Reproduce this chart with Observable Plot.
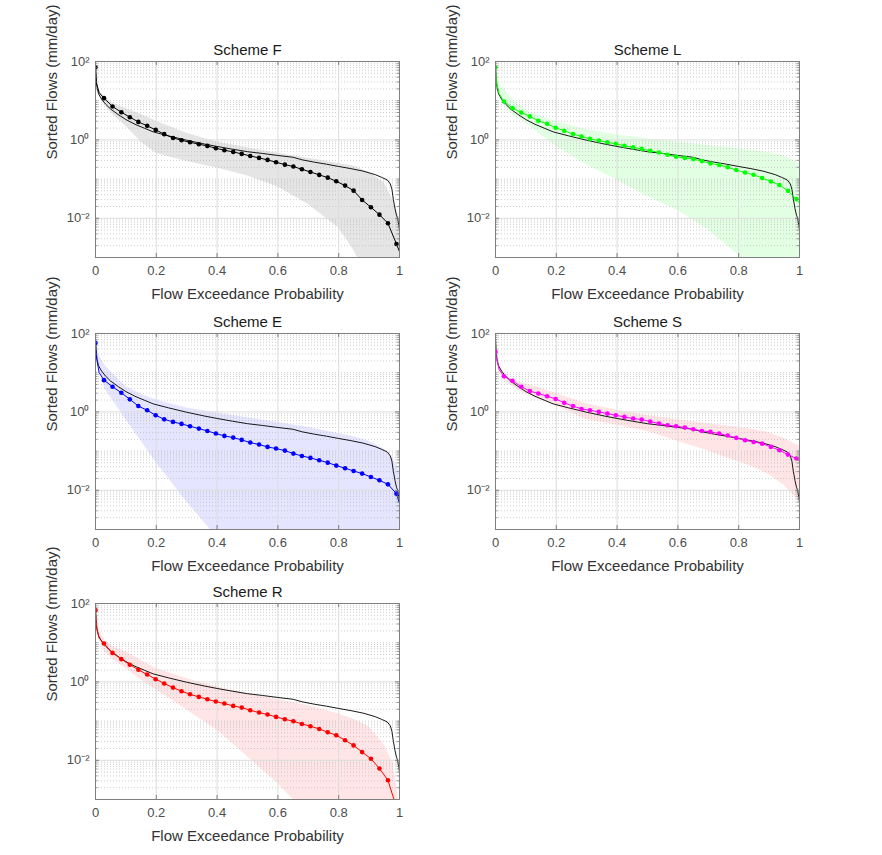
<!DOCTYPE html>
<html>
<head>
<meta charset="utf-8">
<script src="https://cdn.jsdelivr.net/npm/d3@7"></script>
<script src="https://cdn.jsdelivr.net/npm/@observablehq/plot@0.6"></script>
<style>
  body { margin: 0; background: #ffffff; }
  #fig { position: relative; width: 882px; height: 855px; background: #ffffff; font-family: "Liberation Sans", Arial, sans-serif; }
  .panel { position: absolute; }
</style>
</head>
<body>
<div id="fig"></div>
<script>
// ---------- axis ticks ----------
const xTicks = [0, 0.2, 0.4, 0.6, 0.8, 1];
const xTickLabels = ["0", "0.2", "0.4", "0.6", "0.8", "1"];
const yTicks = [1e-2, 1, 1e2];
const yTickLabels = ["10⁻²", "10⁰", "10²"];

// ---------- exceedance probabilities ----------
const markerP = [0, 0.028, 0.056, 0.085, 0.113, 0.141, 0.17, 0.198, 0.226, 0.255, 0.283, 0.311,
  0.34, 0.368, 0.396, 0.424, 0.453, 0.481, 0.509, 0.538, 0.566, 0.594, 0.623, 0.651,
  0.679, 0.707, 0.736, 0.764, 0.792, 0.821, 0.849, 0.877, 0.906, 0.934, 0.962, 0.99];
const headP = [0.003, 0.012];
const bandP = [0, 0.01, 0.03, 0.06, 0.1, 0.15, 0.2, 0.3, 0.4, 0.5, 0.6, 0.7, 0.8, 0.85, 0.9, 0.95, 0.98, 1];

// ---------- observed flow duration curve (mm/day) ----------
const obsP = [0, 0.001, 0.002, 0.005, 0.01, 0.02, 0.033, 0.05, 0.077, 0.1, 0.13, 0.16, 0.19, 0.24, 0.3,
  0.36, 0.4, 0.45, 0.5, 0.55, 0.6, 0.65, 0.68, 0.72, 0.76, 0.8, 0.84, 0.88, 0.92, 0.94, 0.96,
  0.97, 0.975, 0.98, 0.985, 0.99, 0.993, 0.996, 0.998, 1];
const obsQ = [75, 55, 38, 22, 15, 11, 8.2, 6.1, 4.3, 3.3, 2.5, 2.0, 1.6, 1.27, 0.98,
  0.78, 0.68, 0.58, 0.5, 0.45, 0.4, 0.36, 0.31, 0.27, 0.24, 0.21, 0.185, 0.16, 0.13, 0.112, 0.095,
  0.075, 0.055, 0.03, 0.018, 0.012, 0.0105, 0.008, 0.0065, 0.005];

// ---------- simulated (markers), head of line, end value ----------
const simF = [71.6, 11.6, 7.1, 5.08, 3.79, 2.88, 2.28, 1.80, 1.40, 1.12, 0.98, 0.87, 0.776, 0.703, 0.612, 0.545,
  0.494, 0.44, 0.39, 0.347, 0.309, 0.269, 0.234, 0.209, 0.178, 0.152, 0.128, 0.109, 0.0881, 0.0682,
  0.0508, 0.0294, 0.0191, 0.0124, 0.00745, 0.00221];
const headF = [28, 16];
const endF = 0.00141;

const simL = [71.6, 9.55, 6.46, 5.01, 3.98, 3.09, 2.57, 2.04, 1.70, 1.41, 1.22, 1.06, 0.962, 0.871, 0.794, 0.708,
  0.646, 0.589, 0.525, 0.479, 0.417, 0.372, 0.347, 0.324, 0.288, 0.251, 0.229, 0.200, 0.170, 0.148,
  0.129, 0.107, 0.0871, 0.0708, 0.0501, 0.0309];
const headL = [30, 15];
const endL = 0.024;

const simE = [57.5, 6.46, 4.37, 3.09, 2.09, 1.41, 1.10, 0.822, 0.646, 0.556, 0.494, 0.431, 0.375, 0.327, 0.280, 0.244,
  0.221, 0.193, 0.165, 0.147, 0.128, 0.116, 0.103, 0.0863, 0.0753, 0.0670, 0.0583, 0.0508, 0.0427, 0.0365,
  0.0312, 0.0267, 0.0219, 0.0180, 0.0142, 0.00822];
const headE = [25, 10];
const endE = 0.00457;

const simS = [33.9, 8.13, 6.17, 4.37, 3.39, 2.95, 2.51, 2.14, 1.70, 1.41, 1.19, 1.10, 1.0, 0.906, 0.822, 0.745,
  0.676, 0.637, 0.566, 0.504, 0.457, 0.431, 0.398, 0.361, 0.327, 0.309, 0.280, 0.249, 0.217, 0.189,
  0.171, 0.155, 0.128, 0.105, 0.0813, 0.0646];
const headS = [25, 12];
const endS = 0.0562;

const simR = [67.6, 9.55, 5.50, 3.80, 2.75, 2.04, 1.55, 1.17, 0.912, 0.716, 0.578, 0.484, 0.414, 0.361, 0.315, 0.280,
  0.244, 0.221, 0.189, 0.165, 0.147, 0.128, 0.111, 0.0991, 0.0847, 0.0741, 0.0631, 0.0519, 0.0437, 0.0324,
  0.0240, 0.0162, 0.0110, 0.00617, 0.00309, 0.00063];
const headR = [25, 13];
const endR = 0.00035;

// ---------- uncertainty bands (lower / upper, mm/day) ----------
const lowF = [63, 14.1, 7.6, 4.2, 2.24, 0.89, 0.447, 0.282, 0.191, 0.12, 0.063, 0.0224, 0.00562, 0.00151, 0.00025, 0.00004, 0.000016, 0.00001];
const highF = [70.8, 20, 12, 8.3, 6.3, 4.5, 3.0, 1.48, 0.89, 0.63, 0.457, 0.339, 0.251, 0.214, 0.151, 0.0794, 0.0282, 0.01];

const lowL = [63.1, 15.8, 7.08, 4.17, 2.69, 1.32, 0.676, 0.229, 0.0955, 0.0355, 0.0158, 0.00501, 0.00112, 0.0005, 0.0002, 0.00008, 0.00005, 0.00003];
const highL = [70.8, 31.6, 19.1, 10, 5.89, 3.98, 2.95, 1.82, 1.35, 1.07, 0.871, 0.724, 0.603, 0.537, 0.479, 0.38, 0.302, 0.251];

const lowE = [56.2, 15.8, 3.98, 1.78, 0.631, 0.178, 0.0501, 0.00501, 0.00063, 0.0001, 0.00003, 0.00001, 0.00001, 0.00001, 0.00001, 0.00001, 0.00001, 0.00001];
const highE = [63.1, 28.2, 15.8, 8.91, 4.47, 2.82, 2.0, 1.26, 0.933, 0.708, 0.537, 0.398, 0.282, 0.234, 0.178, 0.112, 0.0631, 0.0316];

const lowS = [31.6, 10, 6.31, 4.17, 2.82, 2.0, 1.41, 0.631, 0.457, 0.316, 0.178, 0.1, 0.0525, 0.038, 0.0251, 0.0132, 0.00759, 0.00501];
const highS = [35.5, 15.8, 8.71, 6.31, 5.25, 3.98, 2.95, 1.62, 1.1, 0.813, 0.631, 0.501, 0.407, 0.355, 0.295, 0.209, 0.158, 0.135];

const lowR = [63.1, 14.1, 5.89, 3.55, 2.19, 1.12, 0.617, 0.191, 0.0589, 0.0123, 0.00251, 0.0004, 0.0001, 0.00001, 0.00001, 0.00001, 0.00001, 0.00001];
const highR = [70.8, 25.1, 11.5, 7.94, 5.89, 3.55, 2.19, 1.22, 0.741, 0.501, 0.355, 0.251, 0.151, 0.112, 0.0708, 0.0251, 0.00794, 0.00063];

// ---------- panels ----------
const panels = [
  {title: "Scheme F", color: "#000000", band: "#000000", op: 0.1, sim: simF, head: headF, end: endF, lo: lowF, hi: highF, left: 40, top: 40},
  {title: "Scheme L", color: "#00ff00", band: "#00ff00", op: 0.11, sim: simL, head: headL, end: endL, lo: lowL, hi: highL, left: 440, top: 40},
  {title: "Scheme E", color: "#0000ff", band: "#0000ff", op: 0.1, sim: simE, head: headE, end: endE, lo: lowE, hi: highE, left: 40, top: 312},
  {title: "Scheme S", color: "#ff00ff", band: "#ff0000", op: 0.1, sim: simS, head: headS, end: endS, lo: lowS, hi: highS, left: 440, top: 312},
  {title: "Scheme R", color: "#ff0000", band: "#ff0000", op: 0.1, sim: simR, head: headR, end: endR, lo: lowR, hi: highR, left: 40, top: 582}
];

// minor log grid positions
const yMinor = [];
for (let e = -3; e <= 1; e++) {
  for (let k = 1; k <= 9; k++) {
    if (k === 1 && (e === -3 || e === -2 || e === 0)) continue;
    yMinor.push(+(k * Math.pow(10, e)).toPrecision(3));
  }
}
const yMinorAll = yMinor.filter(v => v > 1e-3 && v < 1e2);

const W = 380, H = 270, mL = 55, mT = 21, mR = 21, mB = 53;
const fw = W - mL - mR, fh = H - mT - mB;
const axisCol = "#7f7f7f";
const fontFam = "'Liberation Sans', Arial, Helvetica, sans-serif";

function makePanel(s) {
  const band = bandP.map((p, i) => ({p, lo: s.lo[i], hi: s.hi[i]}));
  const obs = obsP.map((p, i) => ({p, q: obsQ[i]}));
  const marks = markerP.map((p, i) => ({p, q: s.sim[i]}));
  const line = [marks[0], ...headP.map((p, i) => ({p, q: s.head[i]})), ...marks.slice(1), {p: 1, q: s.end}];
  return Plot.plot({
    width: W, height: H,
    marginLeft: mL, marginTop: mT, marginRight: mR, marginBottom: mB,
    style: {fontFamily: fontFam, background: "transparent", overflow: "visible"},
    x: {domain: [0, 1]},
    y: {type: "log", domain: [1e-3, 1e2]},
    marks: [
      Plot.areaY(band, {x: "p", y1: "lo", y2: "hi", fill: s.band, fillOpacity: s.op, clip: true}),
      Plot.gridY(yMinorAll, {stroke: "#b8b8b8", strokeOpacity: 1, strokeWidth: 0.7, strokeDasharray: "1,2"}),
      Plot.gridY([1e-2, 1], {stroke: "#dcdcdc", strokeOpacity: 1, strokeWidth: 1}),
      Plot.gridX([0.2, 0.4, 0.6, 0.8], {stroke: "#dcdcdc", strokeOpacity: 1, strokeWidth: 1}),
      Plot.line(obs, {x: "p", y: "q", stroke: "#000000", strokeWidth: 0.9, clip: true}),
      Plot.line(line, {x: "p", y: "q", stroke: s.color, strokeWidth: 1, clip: true}),
      Plot.dot(marks, {x: "p", y: "q", fill: s.color, stroke: "none", r: 2.3, clip: true}),
      Plot.frame({stroke: axisCol, strokeWidth: 1}),
      // inward ticks
      Plot.tickX(xTicks, {x: d => d, insetTop: fh - 4, stroke: axisCol}),
      Plot.tickX(xTicks, {x: d => d, insetBottom: fh - 4, stroke: axisCol}),
      Plot.tickY(yTicks, {y: d => d, insetRight: fw - 4, stroke: axisCol}),
      Plot.tickY(yTicks, {y: d => d, insetLeft: fw - 4, stroke: axisCol}),
      Plot.tickY(yMinorAll, {y: d => d, insetRight: fw - 2.5, stroke: axisCol, strokeWidth: 0.8}),
      Plot.tickY(yMinorAll, {y: d => d, insetLeft: fw - 2.5, stroke: axisCol, strokeWidth: 0.8}),
      Plot.axisX({ticks: xTicks, tickFormat: d => xTickLabels[xTicks.indexOf(d)], tickSize: 0, tickPadding: 8, fontSize: 13, fill: "#4d4d4d", label: null}),
      Plot.axisY({ticks: yTicks, tickFormat: d => yTickLabels[yTicks.indexOf(d)], tickSize: 0, tickPadding: 6, fontSize: 13, fill: "#4d4d4d", label: null}),
      Plot.text([s.title], {text: d => d, frameAnchor: "top", dy: -11, lineAnchor: "middle", fontSize: 15, fill: "#1a1a1a"}),
      Plot.text(["Flow Exceedance Probability"], {text: d => d, frameAnchor: "bottom", dy: 37, lineAnchor: "middle", fontSize: 15, fill: "#333333"}),
      Plot.text(["Sorted Flows (mm/day)"], {text: d => d, frameAnchor: "left", dx: -43, rotate: -90, lineAnchor: "middle", fontSize: 15, fill: "#333333"})
    ]
  });
}

const fig = document.getElementById("fig");
for (const s of panels) {
  const div = document.createElement("div");
  div.className = "panel";
  div.style.left = s.left + "px";
  div.style.top = s.top + "px";
  div.appendChild(makePanel(s));
  fig.appendChild(div);
}
</script>
</body>
</html>
